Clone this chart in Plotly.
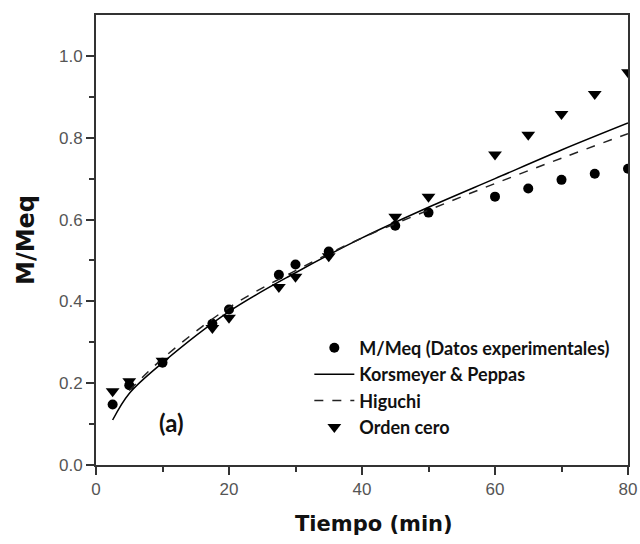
import plotly.graph_objects as go

# Experimental data
t_exp = [2.5, 5, 10, 17.5, 20, 27.5, 30, 35, 45, 50, 60, 65, 70, 75, 80]
m_exp = [0.148, 0.195, 0.25, 0.345, 0.38, 0.465, 0.49, 0.522, 0.585, 0.617,
         0.656, 0.676, 0.697, 0.712, 0.724]

# Zero-order model
orden_cero = [0.18, 0.205, 0.255, 0.335, 0.36, 0.435, 0.46, 0.51, 0.607, 0.656,
              0.759, 0.807, 0.858, 0.907, 0.96]

# Korsmeyer & Peppas fit
t_kp = [2.5, 5, 10, 20, 30, 40, 50, 60, 70, 80]
m_kp = [0.11, 0.175, 0.25, 0.375, 0.47, 0.555, 0.63, 0.70, 0.77, 0.836]

# Higuchi fit
t_hi = [5, 10, 20, 30, 40, 50, 60, 70, 80]
m_hi = [0.182, 0.26, 0.385, 0.475, 0.555, 0.623, 0.688, 0.75, 0.81]

x_ticks = [0, 20, 40, 60, 80]
x_minor = [10, 30, 50, 70]
y_ticks = [0, 0.2, 0.4, 0.6, 0.8, 1.0]
y_minor = [0.1, 0.3, 0.5, 0.7, 0.9]

leg_font = dict(family="Lato, Open Sans, sans-serif", size=18, color="#111", weight="bold")

fig = go.Figure()
fig.add_trace(go.Scatter(x=t_exp, y=m_exp, mode="markers",
                         name="M/Meq (Datos experimentales)", legendgroup="a",
                         marker=dict(symbol="circle", size=10, color="black")))
fig.add_trace(go.Scatter(x=t_kp, y=m_kp, mode="lines", line_shape="spline",
                         name="Korsmeyer & Peppas", legendgroup="b",
                         line=dict(color="black", width=1.5)))
fig.add_trace(go.Scatter(x=t_hi, y=m_hi, mode="lines", line_shape="spline",
                         name="Higuchi", legendgroup="c",
                         line=dict(color="#222", width=1.5, dash="dash")))
fig.add_trace(go.Scatter(x=t_exp, y=orden_cero, mode="markers",
                         name="Orden cero", legendgroup="d",
                         marker=dict(symbol="triangle-down", size=12, color="black")))

axis_common = dict(showline=True, linecolor="#333", linewidth=2, mirror=True,
                   automargin=False,
                   ticks="outside", tickcolor="#333", tickwidth=2, ticklen=8,
                   showgrid=False, zeroline=False,
                   tickfont=dict(family="Liberation Sans, Arial, sans-serif", size=17, color="#555"))

fig.update_layout(
    width=640, height=544,
    margin=dict(l=96, r=12, t=15, b=79, autoexpand=False),
    plot_bgcolor="white", paper_bgcolor="white",
    showlegend=True,
    legend=dict(x=0.401, y=0.301, xanchor="left", yanchor="top",
                font=leg_font, bgcolor="rgba(255,255,255,0)",
                tracegroupgap=0, itemwidth=40),
    xaxis=dict(range=[0, 80], tickmode="array", tickvals=x_ticks,
               minor=dict(tickvals=x_minor, ticks="outside", ticklen=5,
                          tickcolor="#333", tickwidth=2),
               **axis_common),
    yaxis=dict(range=[0, 1.1], tickmode="array", tickvals=y_ticks,
               tickformat=".1f",
               minor=dict(tickvals=y_minor, ticks="outside", ticklen=5,
                          tickcolor="#333", tickwidth=2),
               title=dict(text="<b>M/Meq</b>",
                          font=dict(family="DejaVu Sans, sans-serif", size=24, color="#111"),
                          standoff=18),
               **axis_common),
    annotations=[
        dict(x=11.3, y=0.105, xref="x", yref="y", text="<b>(a)</b>",
             showarrow=False,
             font=dict(family="Lato, Open Sans, sans-serif", size=24, color="#111")),
        dict(x=0.523, y=-0.131, xref="paper", yref="paper", text="<b>Tiempo (min)</b>",
             showarrow=False, xanchor="center", yanchor="middle",
             font=dict(family="DejaVu Sans, sans-serif", size=21, color="#111")),
    ],
)

fig.write_html("out.html", config={"displayModeBar": False},
               post_script="document.body.style.margin='0';document.body.style.padding='0';")
